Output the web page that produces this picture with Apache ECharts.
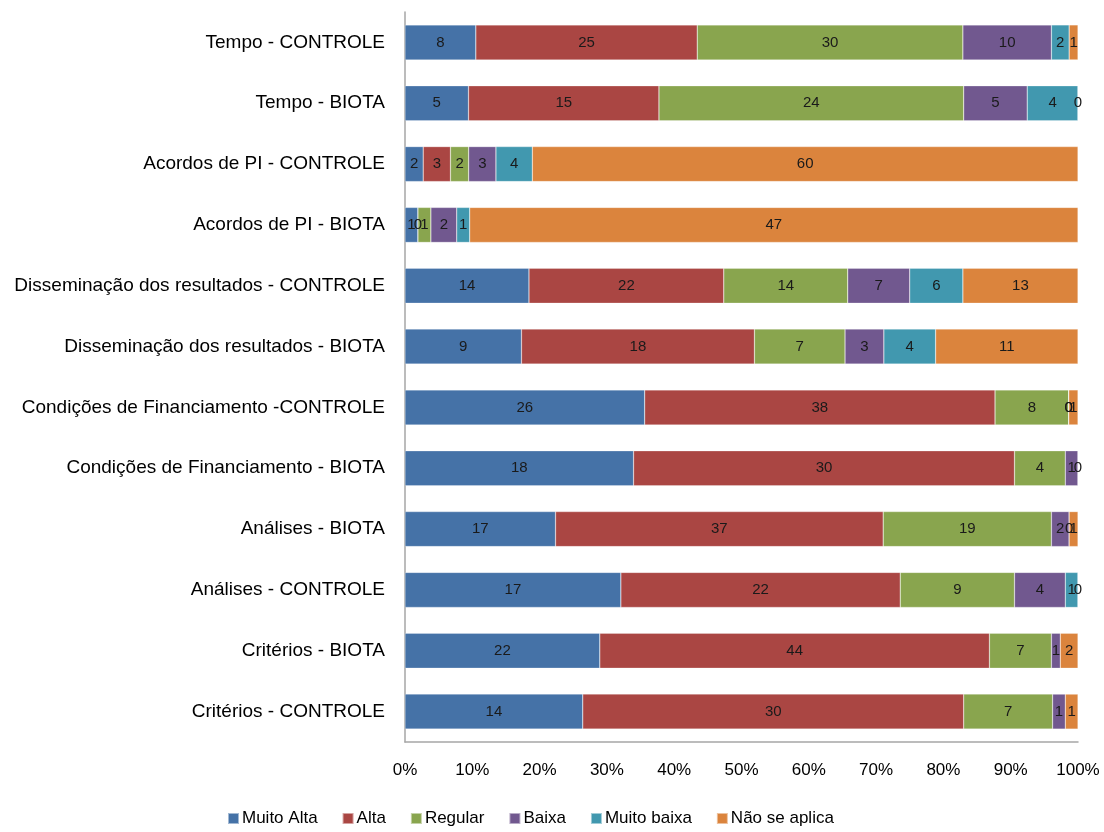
<!DOCTYPE html>
<html><head><meta charset="utf-8">
<script src="https://cdn.jsdelivr.net/npm/echarts@6/dist/echarts.min.js"></script>
<style>html,body{margin:0;padding:0;background:#fff}#c{width:1104px;height:832px}</style>
</head><body><div id="c"></div>
<script>
const categories = [
  "Tempo - CONTROLE","Tempo - BIOTA","Acordos de PI - CONTROLE","Acordos de PI - BIOTA",
  "Disseminação dos resultados - CONTROLE","Disseminação dos resultados - BIOTA",
  "Condições de Financiamento -CONTROLE","Condições de Financiamento - BIOTA",
  "Análises - BIOTA","Análises - CONTROLE","Critérios - BIOTA","Critérios - CONTROLE"];
const seriesNames = ["Muito Alta","Alta","Regular","Baixa","Muito baixa","Não se aplica"];
const muitoAlta   = [8, 5, 2, 1, 14, 9, 26, 18, 17, 17, 22, 14];
const alta        = [25, 15, 3, 0, 22, 18, 38, 30, 37, 22, 44, 30];
const regular     = [30, 24, 2, 1, 14, 7, 8, 4, 19, 9, 7, 7];
const baixa       = [10, 5, 3, 2, 7, 3, 0, 1, 2, 4, 1, 1];
const muitoBaixa  = [2, 4, 4, 1, 6, 4, 0, 0, 0, 1, null, null];
const naoSeAplica = [1, 0, 60, 47, 13, 11, 1, null, 1, 0, 2, 1];
const colors = ["#4572A7","#AA4643","#89A54E","#71588F","#4198AF","#DB843D"];
const xTicks = [0,10,20,30,40,50,60,70,80,90,100];

const raw = [muitoAlta, alta, regular, baixa, muitoBaixa, naoSeAplica];
const totals = categories.map((_, i) => raw.reduce((s, a) => s + (a[i] || 0), 0));
const font = "'Liberation Sans', Arial, sans-serif";

const chart = echarts.init(document.getElementById('c'), null, {renderer: 'canvas'});
chart.setOption({
  animation: false,
  color: colors,
  grid: {left: 405, right: 26, top: 12, bottom: 90, containLabel: false},
  legend: {
    bottom: 0, left: 222, itemWidth: 11, itemHeight: 11, itemGap: 24, icon: 'rect',
    textStyle: {fontFamily: font, fontSize: 17, color: '#000', padding: [0,0,0,-2]},
    data: seriesNames
  },
  xAxis: {
    type: 'value', min: 0, max: 100, interval: 10,
    axisLine: {show: true, lineStyle: {color: '#a6a6a6', width: 1.5}},
    axisTick: {show: false}, splitLine: {show: false},
    axisLabel: {fontFamily: font, fontSize: 17, color: '#000', margin: 20,
      formatter: v => xTicks.includes(v) ? v + '%' : ''}
  },
  yAxis: {
    type: 'category', data: categories, inverse: true,
    axisLine: {show: true, lineStyle: {color: '#a6a6a6', width: 1.5}},
    axisTick: {show: false},
    axisLabel: {fontFamily: font, fontSize: 19, color: '#000', margin: 20}
  },
  series: raw.map((arr, k) => ({
    name: seriesNames[k], type: 'bar', stack: 'all', barWidth: 35,
    itemStyle: {borderColor: 'rgba(255,255,255,0.5)', borderWidth: 0.5},
    label: {show: true, position: 'inside', fontFamily: font, fontSize: 15, color: '#1a1a1a',
      formatter: p => p.data.raw === null ? '' : String(p.data.raw)},
    data: arr.map((v, i) => ({value: v === null ? null : v / totals[i] * 100, raw: v}))
  }))
});
</script></body></html>
